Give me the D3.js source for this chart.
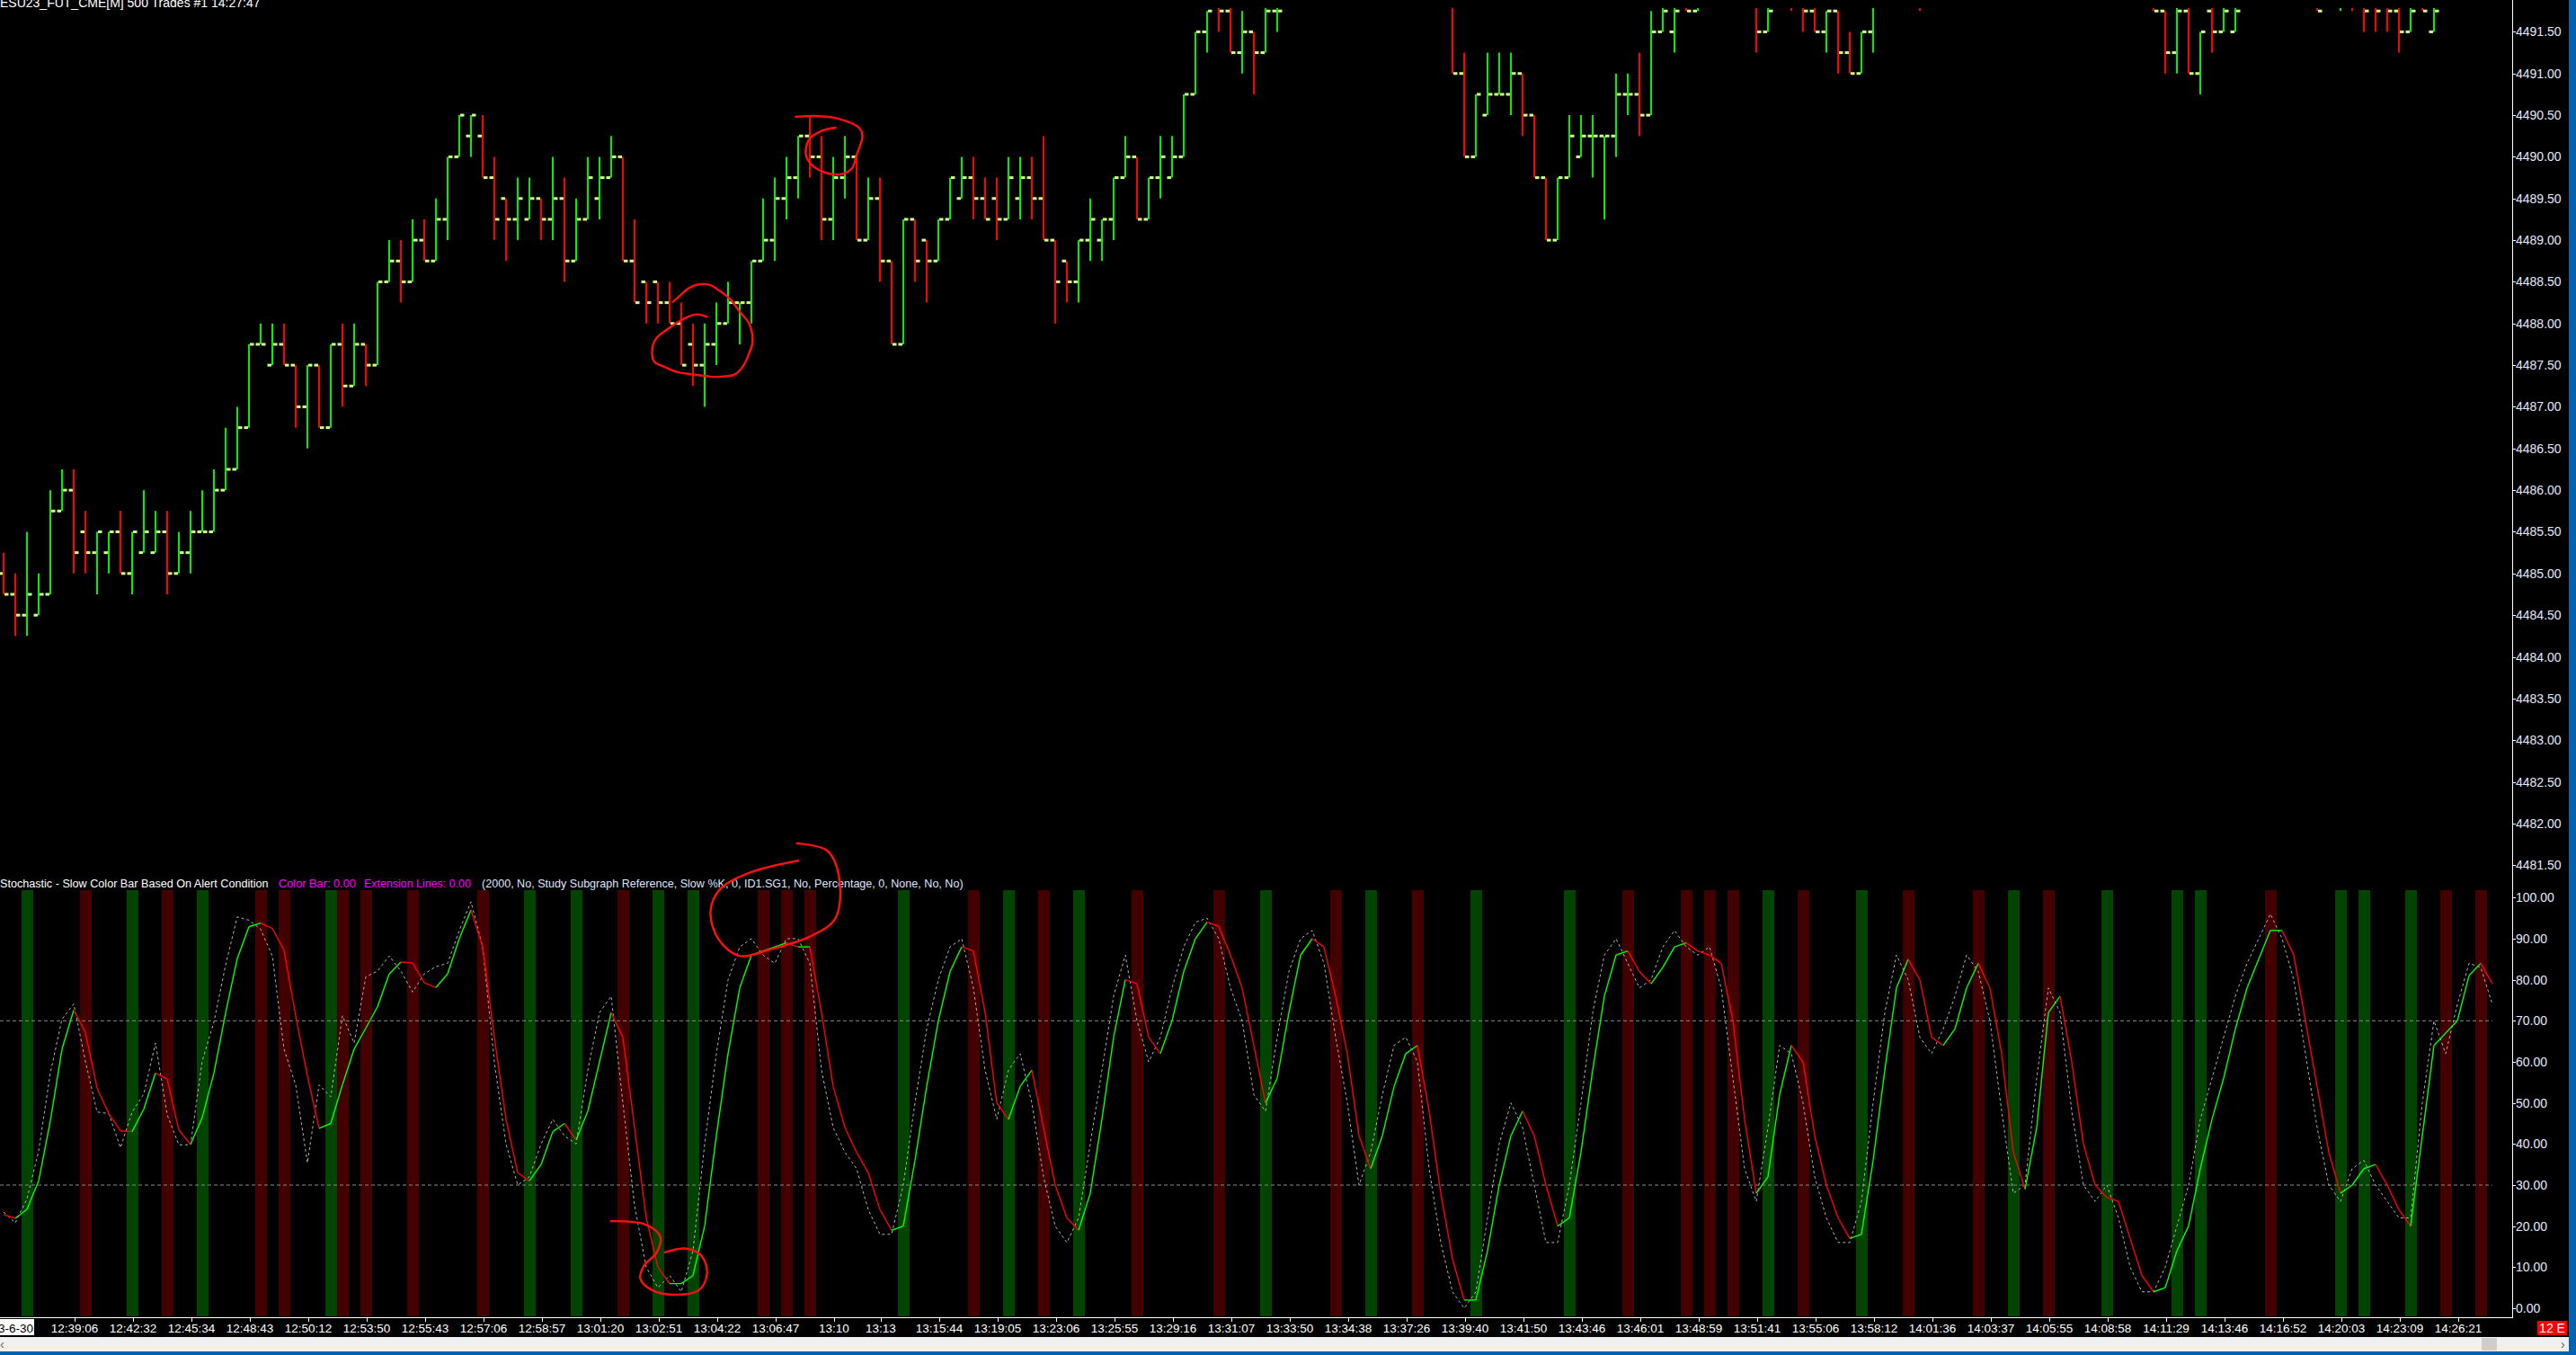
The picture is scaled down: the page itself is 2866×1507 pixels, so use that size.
<!DOCTYPE html>
<html><head><meta charset="utf-8">
<script src="https://cdn.jsdelivr.net/npm/d3@7"></script>
<style>
html,body{margin:0;padding:0;background:#000;overflow:hidden}
svg{display:block}
text{font-family:"Liberation Sans",Arial,sans-serif}
</style></head><body>
<svg id="chart" width="2866" height="1507"></svg>
<script>
// ---------- DATA ----------
const opens = [4485.0,4484.75,4484.5,4484.5,4484.75,4485.75,4486.0,4485.5,4485.25,4485.25,4485.5,4485.0,4485.25,4485.25,4485.5,4485.0,4485.25,4485.5,4485.5,4486.0,
4486.25,4486.75,4487.75,4487.5,4487.75,4487.5,4487.0,4487.5,4486.75,4487.75,4487.25,4487.75,4487.5,4488.5,4488.75,4488.5,4489.0,4488.75,4489.25,4490.0,
4490.25,4490.25,4489.75,4489.5,4489.25,4489.25,4489.5,4489.25,4489.5,4488.75,4489.25,4489.5,4489.75,4490.0,4488.75,4488.5,4488.5,4488.25,4488.0,4487.75,
4487.5,4487.75,4488.0,4488.25,4488.25,4488.75,4489.0,4489.5,4489.75,4490.25,4490.0,4489.25,4489.75,4490.0,4489.0,4489.5,4488.75,4487.75,4489.25,4489.0,
4488.75,4489.25,4489.5,4489.75,4489.5,4489.5,4489.25,4489.5,4489.75,4489.5,4489.0,4488.75,4488.5,4489.0,4489.0,4489.25,4489.75,4490.0,4489.25,4489.75,
4489.75,4490.0,4490.75,4491.5,4492.0,4491.75,4491.25,4491.5,4491.25,4491.75,4492.0,4492.25,4492.5,4492.75,4492.5,4492.25,4492.0,4492.0,4492.25,4492.5,
4492.5,4492.75,4492.25,4492.0,4492.0,4491.0,4490.0,4490.5,4490.75,4490.75,4491.0,4490.5,4489.75,4489.0,4489.75,4490.0,4490.25,4490.25,4490.25,4490.75,
4490.75,4490.5,4491.5,4491.5,4492.0,4491.75,4492.0,4492.25,4492.5,4492.0,4492.0,4491.5,4492.0,4492.25,4492.0,4491.75,4491.5,4491.75,4491.25,4491.0,
4491.5,4492.0,4492.25,4492.5,4492.25,4492.0,4492.5,4492.5,4492.75,4493.0,4492.5,4492.75,4492.25,4492.0,4492.25,4492.75,4492.5,4492.5,4492.25,4492.0,
4492.25,4492.0,4492.0,4492.0,4492.0,4491.75,4491.25,4491.75,4491.0,4491.75,4491.5,4491.5,4492.0,4492.25,4492.5,4492.5,4492.5,4492.25,4492.0,4492.0,
4492.0,4492.25,4492.0,4492.0,4492.0,4491.75,4491.5,4492.0,4491.5,4492.0,4492.25,4492.5,4493.0,4492.75];
const highs = [4485.25,4485.0,4485.5,4485.0,4486.0,4486.25,4486.25,4485.75,4485.5,4485.5,4485.75,4485.5,4486.0,4485.75,4485.75,4485.5,4485.75,4486.0,4486.25,4486.75,
4487.0,4487.75,4488.0,4488.0,4488.0,4487.5,4487.5,4487.5,4487.75,4488.0,4488.0,4487.75,4488.5,4489.0,4489.0,4489.25,4489.25,4489.5,4490.0,4490.5,
4490.5,4490.5,4490.0,4489.5,4489.75,4489.75,4489.5,4490.0,4489.75,4489.5,4490.0,4490.0,4490.25,4490.0,4489.25,4488.5,4488.5,4488.5,4488.25,4488.0,
4488.0,4488.25,4488.5,4488.25,4488.75,4489.5,4489.75,4490.0,4490.25,4490.5,4490.25,4490.0,4490.25,4490.0,4489.75,4489.75,4488.75,4489.25,4489.25,4489.0,
4489.25,4489.75,4490.0,4490.0,4489.75,4489.75,4490.0,4490.0,4490.0,4490.25,4489.0,4488.75,4489.0,4489.5,4489.25,4489.75,4490.25,4490.0,4489.75,4490.25,
4490.25,4490.75,4491.5,4491.75,4492.25,4492.0,4491.75,4491.5,4492.0,4492.0,4492.5,4492.75,4493.0,4493.0,4492.75,4492.5,4492.25,4492.5,4492.75,4492.75,
4492.75,4492.75,4492.5,4492.25,4492.25,4491.25,4490.75,4491.25,4491.25,4491.25,4491.0,4490.5,4489.75,4489.75,4490.5,4490.5,4490.5,4490.25,4491.0,4491.0,
4491.25,4491.75,4492.0,4492.0,4492.25,4492.25,4492.5,4492.75,4492.5,4492.25,4492.25,4492.0,4492.5,4492.5,4492.25,4492.0,4491.75,4491.75,4491.5,4491.5,
4492.0,4492.5,4492.75,4492.5,4492.25,4492.5,4493.0,4493.0,4493.25,4493.0,4493.0,4492.75,4492.5,4492.5,4492.75,4493.0,4492.75,4492.5,4492.5,4492.25,
4492.25,4492.25,4492.25,4492.25,4492.25,4491.75,4492.0,4492.0,4491.5,4492.0,4492.0,4492.0,4492.25,4492.5,4492.75,4492.75,4492.5,4492.25,4492.0,4492.25,
4492.25,4492.25,4492.25,4492.25,4492.25,4492.0,4492.0,4492.25,4492.0,4492.5,4492.75,4493.0,4493.0,4492.75];
const lows = [4484.75,4484.25,4484.25,4484.5,4484.75,4485.75,4485.0,4485.0,4484.75,4485.0,4485.0,4484.75,4485.25,4485.25,4484.75,4485.0,4485.0,4485.5,4485.5,4486.0,
4486.25,4486.75,4487.75,4487.5,4487.5,4486.75,4486.5,4486.75,4486.75,4487.0,4487.25,4487.25,4487.5,4488.5,4488.25,4488.5,4488.75,4488.75,4489.0,4490.0,
4490.0,4489.75,4489.0,4488.75,4489.0,4489.25,4489.0,4489.0,4488.5,4488.75,4489.25,4489.25,4489.75,4488.75,4488.25,4488.0,4488.0,4488.0,4487.5,4487.25,
4487.0,4487.5,4488.0,4487.75,4488.0,4488.75,4488.75,4489.25,4489.5,4489.75,4489.0,4489.0,4489.5,4489.0,4489.0,4488.5,4487.75,4487.75,4488.5,4488.25,
4488.75,4489.25,4489.5,4489.25,4489.25,4489.0,4489.25,4489.25,4489.25,4489.0,4488.0,4488.25,4488.25,4488.75,4488.75,4489.0,4489.75,4489.25,4489.25,4489.5,
4489.75,4490.0,4490.75,4491.25,4491.5,4491.25,4491.0,4490.75,4491.25,4491.5,4492.0,4492.0,4492.25,4492.25,4492.0,4492.0,4492.0,4492.0,4492.25,4492.25,
4492.25,4492.25,4492.0,4492.0,4491.0,4490.0,4490.0,4490.5,4490.75,4490.5,4490.25,4489.75,4489.0,4489.0,4489.75,4490.0,4489.75,4489.25,4490.0,4490.5,
4490.25,4490.5,4491.5,4491.25,4491.75,4491.75,4492.0,4492.0,4492.0,4492.0,4491.25,4491.5,4492.0,4491.75,4491.5,4491.5,4491.25,4491.0,4491.0,4491.0,
4491.25,4492.0,4492.0,4492.0,4491.75,4492.0,4492.25,4492.5,4492.5,4492.5,4492.5,4492.25,4492.0,4492.0,4492.25,4492.5,4492.25,4492.0,4492.0,4492.0,
4492.0,4492.0,4492.0,4492.0,4491.75,4491.0,4491.0,4491.0,4490.75,4491.25,4491.5,4491.5,4492.0,4492.0,4492.25,4492.25,4492.0,4492.0,4491.75,4492.0,
4491.75,4491.75,4491.5,4491.5,4491.5,4491.25,4491.5,4491.75,4491.5,4492.0,4492.0,4492.5,4492.5,4492.25];
const closes = [4484.75,4484.5,4484.75,4484.75,4485.75,4486.0,4485.25,4485.25,4485.5,4485.5,4485.0,4485.5,4485.5,4485.5,4485.0,4485.25,4485.5,4485.5,4486.0,4486.25,
4486.75,4487.75,4487.75,4487.75,4487.5,4487.0,4487.5,4486.75,4487.75,4487.25,4487.75,4487.5,4488.5,4488.75,4488.5,4489.0,4488.75,4489.25,4490.0,4490.5,
4490.5,4489.75,4489.25,4489.25,4489.5,4489.5,4489.25,4489.5,4488.75,4489.25,4489.75,4489.75,4490.0,4488.75,4488.25,4488.25,4488.25,4488.0,4487.5,4487.5,
4487.75,4488.0,4488.25,4488.25,4488.75,4489.0,4489.5,4489.75,4490.25,4490.0,4489.25,4489.75,4490.0,4489.0,4489.5,4488.75,4487.75,4489.25,4488.75,4488.75,
4489.25,4489.75,4489.75,4489.5,4489.25,4489.25,4489.75,4489.75,4489.5,4489.0,4488.5,4488.5,4489.0,4489.25,4489.25,4489.75,4490.0,4489.25,4489.75,4490.0,
4490.0,4490.75,4491.5,4491.75,4491.75,4491.25,4491.5,4491.25,4491.75,4491.75,4492.25,4492.5,4492.75,4492.5,4492.25,4492.0,4492.0,4492.25,4492.5,4492.5,
4492.75,4492.25,4492.0,4492.0,4491.0,4490.0,4490.75,4490.75,4490.75,4491.0,4490.5,4489.75,4489.0,4489.75,4490.25,4490.25,4490.25,4490.25,4490.75,4490.75,
4490.5,4491.5,4491.75,4491.75,4491.75,4492.0,4492.25,4492.5,4492.0,4492.0,4491.5,4491.75,4492.25,4492.0,4491.75,4491.5,4491.75,4491.25,4491.0,4491.5,
4492.0,4492.25,4492.5,4492.0,4492.0,4492.5,4492.5,4492.75,4493.0,4492.5,4492.75,4492.25,4492.0,4492.25,4492.75,4492.5,4492.5,4492.25,4492.0,4492.25,
4492.0,4492.0,4492.0,4492.0,4491.75,4491.25,4491.75,4491.0,4491.5,4491.5,4491.75,4491.75,4492.25,4492.5,4492.5,4492.5,4492.25,4492.0,4491.75,4492.0,
4492.25,4492.0,4491.75,4491.75,4491.75,4491.5,4491.75,4491.75,4491.75,4492.25,4492.5,4493.0,4492.75,4492.5];

// Stochastic - Slow: solid (coloured by direction) and dashed reference line
const slowLine = [22.8,21.9,24.1,31.0,45.6,63.1,72.6,67.2,53.6,47.4,43.2,43.0,48.5,57.3,55.8,43.4,39.9,46.4,57.3,71.9,
85.2,92.9,93.8,92.5,87.2,71.2,56.6,43.8,45.0,54.4,63.1,68.2,73.4,81.4,84.3,84.1,79.3,78.1,81.4,90,
97,88,66,46,33,31,35,43,45,41,48,60,72,66,44,22,10,6,6,8,
20,42,62,78,86,87,88,89,88,88,72,54,44,38,33,24,19,20,36,54,
70,82,88,87,72,50,46,54,58,44,30,22,19,28,46,66,80,79,66,62,
70,82,90,94,93,86,78,64,50,56,72,86,90,88,76,62,42,34,42,54,
62,64,48,28,12,2,2,14,30,42,48,42,30,20,22,38,58,76,86,87,
82,79,83,88,89,87,86,84,70,46,28,32,52,64,60,42,30,22,17,18,
36,58,78,85,80,66,64,68,78,84,78,62,38,29,44,72,76,60,40,30,
27,26,17,8,4,5,14,20,34,46,56,68,78,85,92,92,86,70,54,38,
28,30,34,35,30,24,20,42,64,67,70,81,84,79];
const refLine = [23.4,20.8,26.6,38.3,57.3,70.4,74.1,60.2,47.8,47.4,39.1,47.8,52.2,64.6,47.1,39.8,39.8,60.2,69.7,83.6,
95.3,94.5,92.3,85.8,63.1,54.4,35.4,54.4,51.5,71.2,64.6,80.7,82.1,85.8,82.1,77.0,81.4,83.2,84,92,
99,88,60,40,30,32,40,46,42,40,58,72,76,50,25,10,5,8,4,14,
40,62,80,88,90,86,84,90,90,84,58,44,38,34,24,18,18,30,50,68,
80,88,90,78,58,46,58,62,50,32,20,16,22,40,58,76,86,70,60,66,
78,88,94,95,90,78,70,52,48,66,82,90,92,84,66,50,30,38,52,64,
66,60,34,16,4,0,4,22,40,50,44,30,16,16,30,50,72,86,90,84,
78,80,88,92,88,86,88,78,56,34,26,44,64,62,50,32,22,16,16,26,
50,72,86,80,66,62,68,76,86,82,70,48,28,30,56,78,72,48,30,26,
30,22,10,4,4,10,20,30,46,56,66,76,84,90,96,90,80,62,44,30,
26,34,36,30,26,22,22,50,70,62,74,84,83,74];
const greenAlertBars = [2,11,17,28,45,49,56,59,77,86,92,108,117,126,134,151,159,172,180,186,188,200,202,206];
const redAlertBars = [7,14,22,24,29,31,35,41,53,65,67,69,83,89,97,104,114,121,139,144,146,148,154,163,169,175,194,209,212];
const stochLevels = [70,30];

const timeLabels = ["12:39:06","12:42:32","12:45:34","12:48:43","12:50:12","12:53:50","12:55:43","12:57:06","12:58:57","13:01:20","13:02:51","13:04:22","13:06:47","13:10","13:13",
"13:15:44","13:19:05","13:23:06","13:25:55","13:29:16","13:31:07","13:33:50","13:34:38","13:37:26","13:39:40","13:41:50","13:43:46","13:46:01","13:48:59","13:51:41",
"13:55:06","13:58:12","14:01:36","14:03:37","14:05:55","14:08:58","14:11:29","14:13:46","14:16:52","14:20:03","14:23:09","14:26:21"];
const timeLabelBars = [6,11,16,21,26,31,36,41,46,51,56,61,66,71,75,80,85,90,95,100,105,110,115,120,125,130,135,140,145,150,155,160,165,170,175,180,185,190,195,200,205,210];
const priceTicks = [4481.5,4482.0,4482.5,4483.0,4483.5,4484.0,4484.5,4485.0,4485.5,4486.0,4486.5,4487.0,4487.5,4488.0,4488.5,4489.0,4489.5,4490.0,4490.5,4491.0,4491.5];
const stochTicks = [0,10,20,30,40,50,60,70,80,90,100];
const headerParts = ["Stochastic - Slow  Color Bar Based On Alert Condition","Color Bar: 0.00","Extension Lines: 0.00","(2000, No, Study Subgraph Reference, Slow %K, 0, ID1.SG1, No, Percentage, 0, None, No, No)"];

// hand-drawn annotations, in [bar, value] terms
const notePriceLow = [[57.3,4488.26],[58.0,4488.35],[58.7,4488.43],[59.5,4488.47],[60.5,4488.46],[61.2,4488.40],[62.2,4488.29],[63.0,4488.14],[63.8,4488.0],[64.1,4487.78],[63.8,4487.64],[63.3,4487.49],[62.6,4487.39],[61.0,4487.36],[59.5,4487.38],[57.6,4487.42],[56.4,4487.49],[55.7,4487.54],[55.5,4487.67],[55.8,4487.81],[56.8,4487.93],[58.4,4488.07],[59.3,4488.11],[60.2,4488.08]];
const notePriceHigh = [[67.8,4490.48],[69.5,4490.49],[71.4,4490.46],[73.2,4490.35],[73.5,4490.25],[73.0,4490.02],[72.6,4489.86],[71.6,4489.79],[69.8,4489.84],[68.7,4490.0],[68.9,4490.2],[70.0,4490.31],[71.2,4490.35]];
const noteStochTop = [[67.9,113.2],[70.5,111.4],[71.5,105.0],[71.2,95.0],[69.0,90.5],[65.5,87.3],[63.0,85.8],[61.2,89.8],[60.5,96.5],[61.3,102.0],[64.0,106.2],[68.0,109.0]];
const noteStochBottom = [[52.0,21.2],[54.9,20.4],[56.2,17.5],[55.9,13.6],[54.8,10.3],[54.5,7.2],[55.5,4.4],[57.3,3.3],[59.5,4.4],[60.2,8.3],[59.8,12.5],[58.5,14.5],[56.6,13.6]];

// ---------- DRAW ----------
const W = 2866, H = 1507;
const svg = d3.select("#chart");
const n = closes.length;
const x = d3.scaleLinear().domain([0, n - 1]).range([4, 4 + 13 * (n - 1)]);
const yP = d3.scaleLinear().domain([4481.5, 4491.5]).range([962.2, 35.4]);
const yS = d3.scaleLinear().domain([0, 100]).range([1455, 998.3]);
const axisX = 2795, axisY = 1465;
const UP = "#00ee00", DOWN = "#ff0000", TICK = "#ccff8c";

svg.append("rect").attr("width", W).attr("height", H).attr("fill", "#000");

const defs = svg.append("defs");
defs.append("clipPath").attr("id", "clipP").append("rect").attr("x", 0).attr("y", 9).attr("width", axisX).attr("height", 975);
defs.append("clipPath").attr("id", "clipS").append("rect").attr("x", 0).attr("y", 990).attr("width", axisX).attr("height", axisY - 990);
defs.append("clipPath").attr("id", "clipDate").append("rect").attr("x", 0).attr("y", 1466).attr("width", 38).attr("height", 20);

// price bars
const gP = svg.append("g").attr("clip-path", "url(#clipP)");
const idx = d3.range(n);
gP.selectAll("line.bar").data(idx).join("line")
  .attr("x1", i => x(i)).attr("x2", i => x(i))
  .attr("y1", i => yP(highs[i])).attr("y2", i => yP(lows[i]))
  .attr("stroke", i => closes[i] >= opens[i] ? UP : DOWN).attr("stroke-width", 2);
gP.selectAll("rect.o").data(idx).join("rect")
  .attr("x", i => x(i) - 5.5).attr("y", i => yP(opens[i]) - 1.5).attr("width", 4.5).attr("height", 3).attr("fill", TICK);
gP.selectAll("rect.c").data(idx).join("rect")
  .attr("x", i => x(i) + 1).attr("y", i => yP(closes[i]) - 1.5).attr("width", 4.5).attr("height", 3).attr("fill", TICK);

// stochastic panel
const gS = svg.append("g").attr("clip-path", "url(#clipS)");
gS.selectAll("rect.g").data(greenAlertBars).join("rect")
  .attr("x", i => x(i) - 6).attr("y", 990).attr("width", 13).attr("height", axisY - 991).attr("fill", "#004400");
gS.selectAll("rect.r").data(redAlertBars).join("rect")
  .attr("x", i => x(i) - 6).attr("y", 990).attr("width", 13).attr("height", axisY - 991).attr("fill", "#440000");
gS.selectAll("line.lvl").data(stochLevels).join("line")
  .attr("x1", 0).attr("x2", x(n - 1)).attr("y1", d => yS(d)).attr("y2", d => yS(d))
  .attr("stroke", "#8a8a8a").attr("stroke-width", 1).attr("stroke-dasharray", "4,3");
const lineGen = d3.line().x((d, i) => x(i)).y(d => yS(d));
gS.append("path").attr("d", lineGen(refLine)).attr("fill", "none")
  .attr("stroke", "#b4b4b4").attr("stroke-width", 1).attr("stroke-dasharray", "3,3");
const segs = d3.range(n - 1);
gS.selectAll("line.k").data(segs).join("line")
  .attr("x1", i => x(i)).attr("x2", i => x(i + 1))
  .attr("y1", i => yS(slowLine[i])).attr("y2", i => yS(slowLine[i + 1]))
  .attr("stroke", i => slowLine[i + 1] >= slowLine[i] ? "#00ff00" : "#ff0000").attr("stroke-width", 1.4);

// header texts
svg.append("text").attr("x", 0).attr("y", 8).attr("fill", "#ffffff").attr("font-size", 14)
  .text("ESU23_FUT_CME[M]  500 Trades #1 14:27:47");
const hdrX = [0, 310, 405, 536];
const hdrW = [299, 86, 119, 536];
const hdrC = ["#ffffff", "#ff00ff", "#ff00ff", "#dde4ff"];
svg.selectAll("text.hdr").data(headerParts).join("text").attr("class", "hdr")
  .attr("x", (d, k) => hdrX[k]).attr("y", 987).attr("font-size", 13.5)
  .attr("fill", (d, k) => hdrC[k]).text(d => d)
  .each(function (d, k) {
    const w = this.getComputedTextLength();
    if (w > 0) d3.select(this).attr("font-size", Math.min(14, 13.5 * hdrW[k] / w));
  });

// annotations
const annoLine = d3.line().curve(d3.curveCatmullRom);
const annoStyle = p => p.attr("fill", "none").attr("stroke", "#ff1010").attr("stroke-width", 2.4).attr("stroke-linecap", "round");
svg.append("path").attr("d", annoLine(notePriceLow.map(d => [x(d[0]), yP(d[1])]))).call(annoStyle);
svg.append("path").attr("d", annoLine(notePriceHigh.map(d => [x(d[0]), yP(d[1])]))).call(annoStyle);
svg.append("path").attr("d", annoLine(noteStochTop.map(d => [x(d[0]), yS(d[1])]))).call(annoStyle);
svg.append("path").attr("d", annoLine(noteStochBottom.map(d => [x(d[0]), yS(d[1])]))).call(annoStyle);

// axes frame
svg.append("line").attr("x1", axisX + 0.5).attr("x2", axisX + 0.5).attr("y1", 0).attr("y2", axisY + 1).attr("stroke", "#fff").attr("stroke-width", 1);
svg.append("line").attr("x1", 0).attr("x2", axisX + 1).attr("y1", axisY + 0.5).attr("y2", axisY + 0.5).attr("stroke", "#fff").attr("stroke-width", 1);

// price axis
const gPA = svg.append("g");
gPA.selectAll("line").data(priceTicks).join("line")
  .attr("x1", axisX).attr("x2", axisX + 4).attr("y1", d => Math.round(yP(d)) + 0.5).attr("y2", d => Math.round(yP(d)) + 0.5).attr("stroke", "#fff");
gPA.selectAll("text").data(priceTicks).join("text")
  .attr("x", axisX + 4).attr("y", d => yP(d) + 5).attr("font-size", 14).attr("fill", "#e4e8ff")
  .text(d => d3.format(".2f")(d));
// stochastic axis
const gSA = svg.append("g");
gSA.selectAll("line").data(stochTicks).join("line")
  .attr("x1", axisX).attr("x2", axisX + 4).attr("y1", d => Math.round(yS(d)) + 0.5).attr("y2", d => Math.round(yS(d)) + 0.5).attr("stroke", "#fff");
gSA.selectAll("text").data(stochTicks).join("text")
  .attr("x", axisX + 4).attr("y", d => yS(d) + 5).attr("font-size", 14).attr("fill", "#e4e8ff")
  .text(d => d3.format(".2f")(d));

// time axis
const gT = svg.append("g");
gT.selectAll("line").data(timeLabelBars).join("line")
  .attr("x1", i => Math.round(x(i)) + 1.5).attr("x2", i => Math.round(x(i)) + 1.5).attr("y1", axisY).attr("y2", axisY + 5).attr("stroke", "#fff");
gT.selectAll("text").data(timeLabelBars).join("text")
  .attr("x", i => x(i) + 1).attr("y", 1482).attr("text-anchor", "middle").attr("font-size", 13.5).attr("fill", "#fff")
  .text((d, k) => timeLabels[k]);
svg.append("rect").attr("x", 0).attr("y", 1467).attr("width", 38).attr("height", 18).attr("fill", "#fff");
svg.append("text").attr("clip-path", "url(#clipDate)").attr("x", 37).attr("y", 1482).attr("text-anchor", "end")
  .attr("font-size", 13.5).attr("fill", "#000").text("2023-6-30");
svg.append("rect").attr("x", 2823).attr("y", 1469).attr("width", 33).attr("height", 16).attr("fill", "#ff0000");
svg.append("text").attr("x", 2839.5).attr("y", 1482).attr("text-anchor", "middle").attr("font-size", 14).attr("fill", "#fff").text("12 E");

// scrollbar + window frame
svg.append("rect").attr("x", 0).attr("y", 1487).attr("width", 2858).attr("height", 16).attr("fill", "#f0f0f0");
svg.append("rect").attr("x", 2761).attr("y", 1488).attr("width", 17).attr("height", 14).attr("fill", "#cdcdcd");
svg.append("text").attr("x", 2849).attr("y", 1500).attr("font-size", 14).attr("fill", "#606060").text("›");
svg.append("text").attr("x", 0).attr("y", 1500).attr("font-size", 14).attr("fill", "#606060").text("‹");
svg.append("rect").attr("x", 2858).attr("y", 0).attr("width", 8).attr("height", H).attr("fill", "#0063b1");
svg.append("rect").attr("x", 0).attr("y", 1503).attr("width", W).attr("height", 4).attr("fill", "#0063b1");
</script>
</body></html>
